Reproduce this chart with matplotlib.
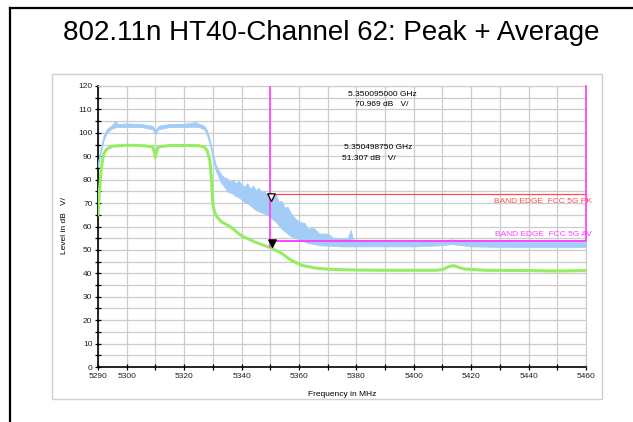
import numpy as np
from matplotlib import pyplot as plt
from matplotlib.patches import Rectangle
from matplotlib.lines import Line2D
from matplotlib.path import Path

plt.rcParams['font.family'] = ['Liberation Sans', 'DejaVu Sans']

# peak trace (blue) - read as lower / upper envelope of the noisy band
peak_freq = [5290, 5291, 5292, 5293, 5295, 5296, 5297, 5300, 5305, 5309, 5310, 5311,
             5315, 5320, 5324, 5325, 5327, 5328, 5329, 5330, 5331, 5332, 5333, 5334,
             5335, 5336, 5337, 5338, 5339, 5340, 5341, 5342, 5343, 5344, 5345, 5346,
             5347, 5348, 5349, 5350, 5351, 5352, 5353, 5354, 5355, 5356, 5357, 5358,
             5359, 5360, 5362, 5363, 5365, 5367, 5370, 5372, 5375, 5377, 5378, 5379,
             5380, 5390, 5400, 5410, 5413, 5417, 5420, 5430, 5440, 5450, 5460]
peak_lo = [85.5, 92, 97, 100, 102, 102.3, 102.5, 102.5, 102.5, 101.5, 99.5, 101.5,
           102.5, 102.5, 102.6, 102.5, 101.5, 99, 95, 89, 84, 81, 78.5, 77,
           75, 74.5, 74, 73, 72.5, 71.5, 70.5, 70, 69, 68, 67, 66.5,
           66, 65.5, 65, 64, 63, 62, 60.5, 59, 58, 57, 56, 55.5,
           55, 54.5, 53.5, 53, 52.5, 52, 51.8, 51.7, 51.5, 51.5, 51.5, 51.5,
           51.5, 51.5, 51.5, 52, 52.5, 52, 51.5, 51.3, 51.3, 51.2, 51.2]
peak_hi = [87.5, 94, 99, 101.5, 103.5, 105, 103.8, 104, 103.8, 103, 101, 103,
           103.8, 103.8, 104.6, 104, 103, 101, 97, 91, 86.5, 84, 82, 81,
           80.5, 79, 80, 78.5, 79.5, 78, 77, 78.5, 76, 77.5, 75.5, 76.5,
           74.5, 75, 73.5, 75, 72.5, 73.5, 70.5, 71, 68, 68.5, 66, 64.5,
           63, 62, 61.5, 59, 59.5, 57, 57, 55, 55, 55, 58.5, 54,
           54, 53.5, 53.5, 54, 54.5, 54, 53.5, 53.5, 53.3, 53.3, 53.3]

# average trace (green)
avg_freq = [5290, 5290.5, 5291, 5291.5, 5292, 5293, 5295, 5300, 5305, 5309, 5309.7, 5310,
            5310.3, 5311, 5315, 5320, 5325, 5327, 5328, 5329, 5329.5, 5330, 5330.5,
            5331.5, 5333, 5336, 5340, 5345, 5350, 5354, 5357, 5361, 5366, 5371, 5380,
            5390, 5400, 5408, 5410, 5412, 5414, 5416, 5418, 5425, 5440, 5450, 5460]
avg_level = [65, 75, 83, 88, 91, 93, 94.3, 94.7, 94.6, 94, 91.5, 89.5,
             91.5, 94, 94.6, 94.6, 94.5, 94, 92.5, 88, 80, 70, 66.5,
             64, 62, 60, 56, 53.2, 51, 48.5, 45.8, 43.4, 42.2, 41.7, 41.4,
             41.3, 41.3, 41.3, 41.6, 42.8, 43.3, 42.4, 41.8, 41.3, 41.2, 41, 41.2]

# markers and limit lines
m1_freq, m1_level = 5350.095, 70.969
m2_freq, m2_level = 5350.49875, 51.307
pk_limit = 74
av_limit = 54
band_edge = 5350
f_stop = 5460

xticks_major = [5290, 5300, 5320, 5340, 5360, 5380, 5400, 5420, 5440, 5460]
xticks_minor = [5310, 5330, 5350, 5370, 5390, 5410, 5430, 5450]

W, H = 633, 422
fig = plt.figure(figsize=(W / 100, H / 100), dpi=100)

# frame: black border + light gray box
fig.add_artist(Line2D([10 / W, 10 / W], [0, 1 - 8 / H], color='black', lw=1.6))
fig.add_artist(Line2D([10 / W, 1], [1 - 8 / H, 1 - 8 / H], color='black', lw=1.6))
fig.add_artist(Rectangle((52 / W, 1 - 399 / H), 550 / W, 325 / H, fill=False,
                         edgecolor='#d0d0d0', lw=1))

fig.text(331 / W, 1 - 33 / H, '802.11n HT40-Channel 62: Peak + Average',
         ha='center', va='center', fontsize=20)

ax = fig.add_axes([98 / W, 1 - 367 / H, 488 / W, 281 / H])
ax.set_xlim(5290, 5460)
ax.set_ylim(0, 120)

ax.set_xticks(xticks_major)
ax.set_xticks(xticks_minor, minor=True)
ax.set_yticks(np.arange(0, 121, 10))
ax.set_yticks(np.arange(5, 120, 10), minor=True)
ax.grid(True, which='both', color='#cccccc', lw=0.9)
ax.set_axisbelow(True)
ax.tick_params(which='both', direction='inout', length=5, width=0.9,
               labelsize=6, pad=1.5, colors='black', labelcolor='#222222')
ax.tick_params(which='minor', length=4)
for s in ['top', 'right']:
    ax.spines[s].set_color('#cccccc')
for s in ['left', 'bottom']:
    ax.spines[s].set_linewidth(1.2)

ax.fill_between(peak_freq, peak_lo, peak_hi, color='#a3ccf7', lw=0.6, zorder=3)
ax.plot(avg_freq, avg_level, color='#95ee62', lw=2.2, zorder=4)

# limit lines
ax.plot([band_edge, f_stop], [pk_limit, pk_limit], color='#ff4d4d', lw=0.9, zorder=5)
ax.plot([band_edge, f_stop], [av_limit, av_limit], color='#ff40ff', lw=1.4, zorder=5)
ax.plot([band_edge, band_edge], [120, m2_level], color='#ff40ff', lw=1.2, zorder=5)
ax.plot([f_stop, f_stop], [120, av_limit], color='#ff40ff', lw=1.2, zorder=5, clip_on=False)
ax.text(5462, 70.5, 'BAND EDGE  FCC 5G PK', color='#ff5050', fontsize=6,
        ha='right', va='center', zorder=6)
ax.text(5462, 56.4, 'BAND EDGE  FCC 5G AV', color='#ff40ff', fontsize=6,
        ha='right', va='center', zorder=6)

# marker triangles with tip on the trace point
tri = Path([(-0.5, 1), (0.5, 1), (0, 0), (-0.5, 1)])
ax.plot(m1_freq, m1_level, marker=tri, ms=11, mfc='white', mec='black', mew=0.9,
        zorder=7)
ax.plot(m2_freq, m2_level, marker=tri, ms=11, mfc='black', mec='black', mew=0.9,
        zorder=7)

ax.text(5389, 116.2, '5.350095000 GHz', fontsize=6, ha='center', va='center')
ax.text(5389, 112.0, '70.969 dB   V/', fontsize=6, ha='center', va='center')
ax.text(5387.5, 93.6, '5.350498750 GHz', fontsize=6, ha='center', va='center')
ax.text(5384.5, 88.9, '51.307 dB   V/', fontsize=6, ha='center', va='center')

fig.text(342 / W, 1 - 394 / H, 'Frequency in MHz', fontsize=6, ha='center', va='center')
fig.text(64 / W, 1 - 226 / H, 'Level in dB   V/', fontsize=6, ha='center', va='center',
         rotation=90)

fig.savefig('out.png', dpi=100)
